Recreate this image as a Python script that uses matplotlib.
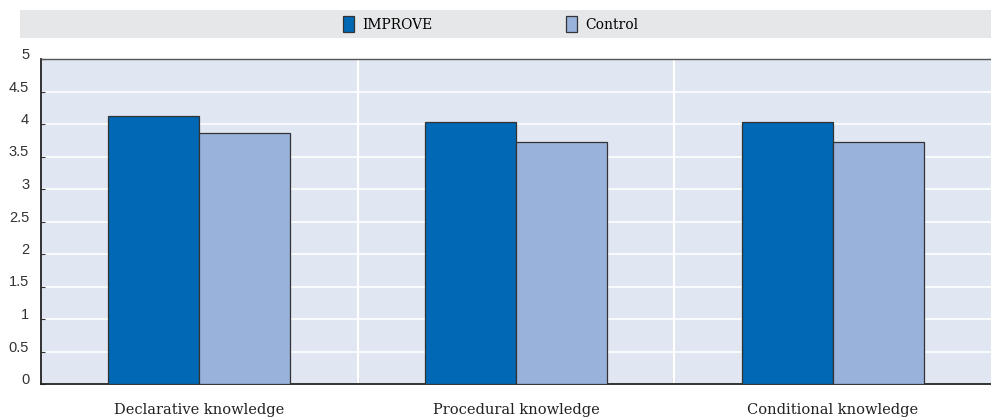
import matplotlib
matplotlib.use("Agg")
import matplotlib.pyplot as plt
from matplotlib.patches import Rectangle
from matplotlib.transforms import ScaledTranslation
import numpy as np

categories = ["Declarative knowledge", "Procedural knowledge", "Conditional knowledge"]
series_names = ["IMPROVE", "Control"]
improve = [4.13, 4.03, 4.03]
control = [3.86, 3.73, 3.73]
yticks = [0, 0.5, 1, 1.5, 2, 2.5, 3, 3.5, 4, 4.5, 5]
ytick_labels = ["0", "0.5", "1", "1.5", "2", "2.5", "3", "3.5", "4", "4.5", "5"]

c_imp = "#0068B4"
c_ctl = "#98B2DC"
bg = "#E0E7F2"

fig = plt.figure(figsize=(9.91, 4.20), dpi=100)
ax = fig.add_axes([41/991, 1-384/420, 1-41/991, (384-59)/420])
ax.set_facecolor(bg)

x = np.arange(len(categories))
w = 0.287
b1 = ax.bar(x - w/2, improve, w, color=c_imp, edgecolor="#333333", linewidth=0.9, zorder=3, label=series_names[0])
b2 = ax.bar(x + w/2, control, w, color=c_ctl, edgecolor="#333333", linewidth=0.9, zorder=3, label=series_names[1])

ax.set_xlim(-0.5, len(categories) - 0.5)
ax.set_ylim(0, 5)
ax.set_yticks(yticks)
ax.set_yticklabels(ytick_labels, fontsize=10.5, family="Liberation Sans", color="#333333")
ax.set_xticks(x)
ax.set_xticklabels(categories, fontsize=10.5, family="DejaVu Serif", color="#222222")
ax.tick_params(axis="x", length=0, pad=14)
ax.tick_params(axis="y", direction="in", length=3, width=0.8, color="#333333", pad=8.5)
ax.set_xticks([0.5, 1.5], minor=True)
ax.tick_params(axis="x", which="minor", direction="in", length=4, width=1.5, color="#444444")

shift = ScaledTranslation(0, 5.5/100, fig.dpi_scale_trans)
for lab in ax.get_yticklabels():
    lab.set_transform(lab.get_transform() + shift)

ax.yaxis.grid(True, color="white", linewidth=1.2, zorder=0)
for xv in [0.5, 1.5]:
    ax.axvline(xv, color="white", linewidth=1.5, zorder=1)
ax.set_axisbelow(True)

ax.spines["right"].set_visible(False)
ax.spines["top"].set_color("#555555")
ax.spines["top"].set_linewidth(1.0)
ax.spines["left"].set_color("#222222")
ax.spines["left"].set_linewidth(1.3)
ax.spines["bottom"].set_color("#222222")
ax.spines["bottom"].set_linewidth(1.3)

fig.patches.append(Rectangle((20/991, 1-38/420), 1-20/991, 28/420, transform=fig.transFigure,
                             facecolor="#E6E7E8", edgecolor="none", zorder=0))
leg = fig.legend(handles=[b1, b2], labels=series_names, loc="center", bbox_to_anchor=(491/991, 1-24/420),
                 ncol=2, frameon=False, handlelength=0.8, handleheight=1.3, handletextpad=0.6,
                 columnspacing=9.6, prop={"family": "DejaVu Serif", "size": 10})

fig.savefig("out.png", dpi=100)
